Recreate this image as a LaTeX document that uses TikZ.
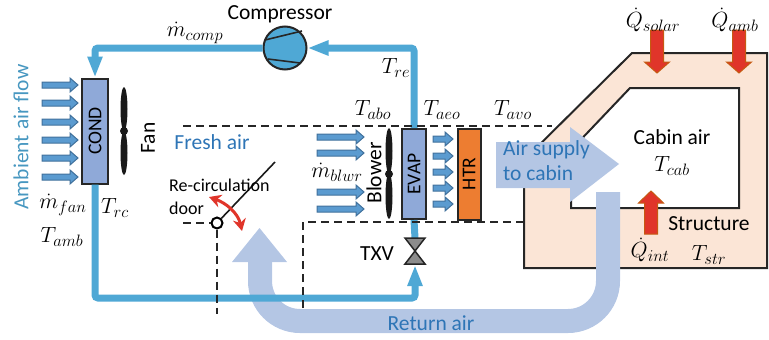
\documentclass[tikz,border=0pt]{standalone}
\usepackage{fix-cm}
\usepackage{amsmath}
\usepackage{fontspec}
\setmainfont{Carlito}
\usetikzlibrary{arrows.meta}
\DeclareMathSizes{22}{22}{16.5}{13}
\definecolor{pipeblue}{HTML}{4FA8D5}
\definecolor{condblue}{HTML}{8FA9D8}
\definecolor{bandblue}{HTML}{B4C6E4}
\definecolor{textblue}{HTML}{2E75B6}
\definecolor{flowfill}{HTML}{5B9BD0}
\definecolor{flowedge}{HTML}{41719C}
\definecolor{htrorange}{HTML}{ED7D31}
\definecolor{structfill}{HTML}{FBE5D6}
\definecolor{heatred}{HTML}{E0352A}
\definecolor{heatedge}{HTML}{C55A11}
\tikzset{
    lbl/.style={inner sep=0pt, font=\fontsize{21.5}{25}\selectfont},
    mathlbl/.style={inner sep=0pt, font=\fontsize{22}{26}\selectfont},
    bluelbl/.style={lbl, text=textblue},
    hx/.style={draw=black!85, line width=2pt, inner sep=0pt, rotate=90, font=\fontsize{19.5}{23}\selectfont},
    pipe/.style={draw=pipeblue, line width=7pt, rounded corners=3pt},
    pipetip/.style={pipe, -{Triangle[length=21pt,width=14pt]}},
    damper/.style={dashed, dash pattern=on 8pt off 5pt, line width=1.6pt, black!85},
    flow/.style={draw=flowedge, fill=flowfill, line width=1pt},
    heat/.style={draw=heatedge, fill=heatred, line width=1pt},
    wall/.style={draw=black!85, line width=2pt, line join=miter},
}
% flow arrow: start x, tip x, y
\newcommand{\flowarrow}[3]{
    \draw[flow] (#1,#3-3) -- (#2-8,#3-3) -- (#2-8,#3-7) -- (#2,#3) -- (#2-8,#3+7) -- (#2-8,#3+3) -- (#1,#3+3) -- cycle;
}
% heat arrow: x, start y, head base y, tip y
\newcommand{\heatarrow}[4]{
    \draw[heat] (#1-6.5,#2) -- (#1-6.5,#3) -- (#1-12.5,#3) -- (#1,#4) -- (#1+12.5,#3) -- (#1+6.5,#3) -- (#1+6.5,#2) -- cycle;
}
\begin{document}
\begin{tikzpicture}[x=1pt,y=-1pt]
    \useasboundingbox (0,0) rectangle (769,340);
    % cabin structure
    \draw[wall, fill=structfill] (524,160) -- (632,53) -- (767,53) -- (767,268) -- (524,268) -- cycle;
    \draw[wall, fill=white] (571,150) -- (630,88) -- (739,88) -- (739,208) -- (571,208) -- cycle;
    % air to and from the cabin
    \fill[bandblue] (496,142) -- (570,142) -- (570,127) -- (619,164) -- (570,202) -- (570,188) -- (496,188) -- cycle;
    \draw[bandblue, line width=24pt] (608,192) -- (608,281) arc (0:90:40) -- (300,321) arc (90:180:40) -- (260,261);
    \fill[bandblue] (232,262) -- (259.5,228) -- (287,262) -- cycle;
    % components
    \node[hx, fill=condblue, minimum width=105pt, minimum height=26pt] (cond) at (95,131) {COND};
    \node[hx, fill=condblue, minimum width=90pt, minimum height=24pt] (evap) at (414,174) {EVAP};
    \node[hx, fill=htrorange, minimum width=91pt, minimum height=23pt] (htr) at (469,174) {HTR};
    \node[circle, draw=black!85, line width=2pt, fill=pipeblue, minimum size=43pt, inner sep=0pt] (comp) at (285,48) {};
    \coordinate (txvtop) at (415,238);
    \coordinate (txvmid) at (415,251);
    \coordinate (txvbot) at (415,265);
    \coordinate (loopleft) at (95,298);
    \coordinate (loopright) at (415,298);
    % refrigerant loop
    \draw[pipetip] (comp.west) -| (cond.east);
    \draw[pipetip] (cond.west) -- (loopleft) -- (loopright) -- (txvbot);
    \draw[pipe] (evap.west) -- (txvtop);
    \draw[pipetip] (evap.east) |- (comp.east);
    \draw[black!85, line width=1.6pt] (265,40) -- (302,31);
    \draw[black!85, line width=1.6pt] (268,59) -- (300,63);
    % expansion valve
    \draw[black!85, line width=1.5pt, fill=black!45] (405,238) -- (425,238) -- (txvmid) -- cycle;
    \draw[black!85, line width=1.5pt, fill=black!45] (405,264) -- (425,264) -- (txvmid) -- cycle;
    % fans
    \fill[black!90] (124,109) ellipse (3.5 and 22);
    \fill[black!90] (124,153) ellipse (3.5 and 22);
    \fill[black!90] (124,131) circle (4);
    \fill[black!90] (389,151) ellipse (3.5 and 23);
    \fill[black!90] (389,196) ellipse (3.5 and 23);
    \fill[black!90] (389,174) circle (4);
    % air arrows
    \foreach \y in {85,103,122,140,158,177} {\flowarrow{42}{78}{\y}}
    \foreach \y in {137,153,192,209} {\flowarrow{317}{364}{\y}}
    \foreach \y in {139,156,172,188,204} {\flowarrow{433}{453}{\y}}
    % air duct
    \draw[damper] (183,126) -- (552,126);
    \coordinate (ductcorner) at (303,222);
    \draw[damper] (303,308) -- (ductcorner) -- (524,222);
    \node[circle, draw=black, line width=2pt, fill=white, minimum size=11pt, inner sep=0pt] (door) at (217,223) {};
    \coordinate (doorend) at (275,162);
    \coordinate (doorleft) at (183,223);
    \coordinate (doordown) at (217,314);
    \draw[black!90, line width=1.6pt] (door) -- (doorend);
    \draw[damper] (doorleft) -- (door.west);
    \draw[damper] (door.south) -- (doordown);
    \draw[heatred, line width=3pt, {Stealth[length=12pt,width=13pt]}-{Stealth[length=12pt,width=13pt]}] (209,197) .. controls (226,203) and (238,213) .. (242,231);
    % heat inputs
    \heatarrow{657}{30}{62}{73}
    \heatarrow{739}{30}{62}{73}
    \heatarrow{651}{234}{203}{191}
    % labels
    \node[lbl] (complbl) at (280,14) {Compressor};
    \node[mathlbl] (mcomp) at (195,33) {$\dot{m}_{comp}$};
    \node[lbl, text=pipeblue!90!black, rotate=90] (ambient) at (21,137) {Ambient air flow};
    \node[mathlbl] (mfan) at (63,205) {$\dot{m}_{fan}$};
    \node[mathlbl] (trc) at (115,208) {$T_{rc}$};
    \node[mathlbl] (tamb) at (62,237) {$T_{amb}$};
    \node[lbl, rotate=90] (fan) at (148,138) {Fan};
    \node[bluelbl] (fresh) at (212,142) {Fresh air};
    \node[lbl, align=left, anchor=north west, font=\fontsize{18}{23}\selectfont] (doorlbl) at (169,179) {Re-circulation\\door};
    \node[mathlbl] (tre) at (396,68) {$T_{re}$};
    \node[mathlbl] (tabo) at (373,110) {$T_{abo}$};
    \node[mathlbl] (taeo) at (442,110) {$T_{aeo}$};
    \node[mathlbl] (tavo) at (513,110) {$T_{avo}$};
    \node[mathlbl] (mblwr) at (337,172) {$\dot{m}_{blwr}$};
    \node[lbl, rotate=90] (blower) at (374,173) {Blower};
    \node[lbl] (txvlbl) at (377,254) {TXV};
    \node[bluelbl, align=left, anchor=north west] (supply) at (503,140) {Air supply\\to cabin};
    \node[bluelbl] (return) at (431,323) {Return air};
    \node[mathlbl] (qsolar) at (653,20) {$\dot{Q}_{solar}$};
    \node[mathlbl] (qamb) at (735,20) {$\dot{Q}_{amb}$};
    \node[mathlbl] (qint) at (650,250) {$\dot{Q}_{int}$};
    \node[mathlbl] (tstr) at (709,255) {$T_{str}$};
    \node[lbl] (struct) at (709,224) {Structure};
    \node[lbl] (cabin) at (672,137) {Cabin air};
    \node[mathlbl] (tcab) at (672,166) {$T_{cab}$};
\end{tikzpicture}
\end{document}
